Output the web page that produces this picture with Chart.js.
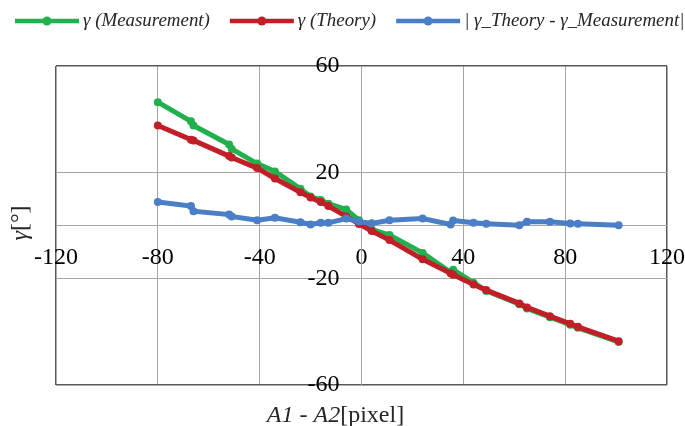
<!DOCTYPE html>
<html>
<head>
<meta charset="utf-8">
<script src="https://cdn.jsdelivr.net/npm/chart.js@4.4.1/dist/chart.umd.min.js"></script>
<style>
html, body { margin: 0; padding: 0; background: #fff; }
#wrap { width: 685px; height: 426px; }
</style>
</head>
<body>
<div id="wrap"><canvas id="gammaChart" width="685" height="426"></canvas></div>
<script>
// A1 - A2 [pixel]
const xPixel = [-80, -67, -66, -52, -51, -41, -34, -24, -20, -16, -13, -6, -1, 4, 11, 24, 35, 36, 44, 49, 62, 65, 74, 82, 85, 101];
// gamma [deg]
const gammaMeasured = [46.4, 39.2, 37.6, 30.5, 28.8, 23.3, 20.3, 13.8, 10.9, 9.6, 8.2, 6.0, 2.0, -1.5, -3.6, -10.3, -17.6, -16.6, -21.5, -24.6, -29.6, -31.2, -34.5, -37.3, -38.5, -43.8];
const gammaTheory = [37.6, 32.3, 32.0, 26.1, 25.6, 21.6, 17.7, 12.5, 10.5, 8.8, 7.3, 3.4, 0.6, -2.1, -5.5, -12.7, -18.0, -18.5, -22.2, -24.3, -29.3, -30.8, -34.1, -37.0, -38.1, -43.5];
const gammaDiff = [8.8, 7.3, 5.4, 4.1, 3.4, 2.0, 2.9, 1.2, 0.4, 1.0, 1.0, 2.6, 1.5, 0.8, 2.0, 2.6, 0.4, 1.9, 1.0, 0.7, 0.1, 1.4, 1.4, 0.75, 0.7, 0.1];

const xTicks = [-120, -80, -40, 0, 40, 80, 120];
const yTicks = [-60, -20, 20, 60];

const seriesNames = ['γ (Measurement)', 'γ (Theory)', '| γ_Theory - γ_Measurement|'];
const seriesColors = ['#22b04e', '#c01f28', '#4a7ec6'];

const SERIF = "'Liberation Serif', 'Times New Roman', serif";
Chart.defaults.font.family = SERIF;

function points(ys) {
    return xPixel.map((x, i) => ({ x: x, y: ys[i] }));
}

function makeSet(idx, ys, order) {
    return {
        label: seriesNames[idx],
        data: points(ys),
        showLine: true,
        borderColor: seriesColors[idx],
        backgroundColor: seriesColors[idx],
        borderWidth: 5,
        pointRadius: 4,
        pointBorderWidth: 0,
        pointBackgroundColor: seriesColors[idx],
        tension: 0,
        order: order
    };
}

// legend drawn across the top: short line with a dot, then the series name
const topLegend = {
    id: 'topLegend',
    afterDraw(chart) {
        const ctx = chart.ctx;
        ctx.save();
        ctx.font = 'italic 18.9px ' + SERIF;
        ctx.textBaseline = 'middle';
        let x = 15;
        const y = 21;
        seriesNames.forEach((name, i) => {
            ctx.strokeStyle = seriesColors[i];
            ctx.lineWidth = 4.5;
            ctx.beginPath();
            ctx.moveTo(x, y);
            ctx.lineTo(x + 64, y);
            ctx.stroke();
            ctx.fillStyle = seriesColors[i];
            ctx.beginPath();
            ctx.arc(x + 32, y, 4.5, 0, Math.PI * 2);
            ctx.fill();
            ctx.fillStyle = '#262626';
            ctx.fillText(name, x + 68, y);
            x += 68 + ctx.measureText(name).width + 20;
        });
        ctx.restore();
    }
};

// y tick labels sit left of the vertical axis at x = 0, with a gap
const yLabels = {
    id: 'yLabels',
    afterDraw(chart) {
        const ctx = chart.ctx;
        const xs = chart.scales.x;
        const ys = chart.scales.y;
        const right = xs.getPixelForValue(0) - 22;
        ctx.save();
        ctx.font = '24px ' + SERIF;
        ctx.fillStyle = '#000';
        ctx.textAlign = 'right';
        ctx.textBaseline = 'middle';
        yTicks.forEach(v => ctx.fillText(String(v), right, ys.getPixelForValue(v)));
        ctx.restore();
    }
};

// axis titles mix italic and upright parts, so they are drawn by hand
const axisTitles = {
    id: 'axisTitles',
    afterDraw(chart) {
        const ctx = chart.ctx;
        ctx.save();
        ctx.fillStyle = '#262626';
        ctx.textBaseline = 'alphabetic';
        ctx.textAlign = 'left';

        // x title
        const itX = 'italic 24px ' + SERIF;
        const upX = '24px ' + SERIF;
        ctx.font = itX;
        const w1 = ctx.measureText('A1 - A2').width;
        ctx.font = upX;
        const w2 = ctx.measureText('[pixel]').width;
        let sx = 335.5 - (w1 + w2) / 2;
        ctx.font = itX;
        ctx.fillText('A1 - A2', sx, 422);
        ctx.font = upX;
        ctx.fillText('[pixel]', sx + w1, 422);

        // y title
        ctx.translate(21, 223);
        ctx.rotate(-Math.PI / 2);
        ctx.textBaseline = 'middle';
        ctx.font = itX;
        const g1 = ctx.measureText('γ').width;
        ctx.font = upX;
        const g2 = ctx.measureText('[°]').width;
        sx = -(g1 + g2) / 2;
        ctx.font = itX;
        ctx.fillText('γ', sx, 0);
        ctx.font = upX;
        ctx.fillText('[°]', sx + g1, 0);
        ctx.restore();
    }
};

const edgeColor = '#595959';
const gridColor = '#a6a6a6';

new Chart(document.getElementById('gammaChart'), {
    type: 'scatter',
    data: {
        datasets: [
            makeSet(0, gammaMeasured, 3),
            makeSet(1, gammaTheory, 2),
            makeSet(2, gammaDiff, 1)
        ]
    },
    options: {
        responsive: false,
        animation: false,
        devicePixelRatio: 1,
        layout: { autoPadding: false, padding: { left: 56, right: 18, top: 66, bottom: 41 } },
        plugins: {
            legend: { display: false },
            tooltip: { enabled: false }
        },
        scales: {
            x: {
                type: 'linear',
                position: { y: 0 },
                min: -120,
                max: 120,
                afterBuildTicks: s => { s.ticks = xTicks.map(v => ({ value: v })); },
                afterFit: s => { s.height = 0; },
                grid: {
                    drawTicks: true,
                    tickLength: 18,
                    tickColor: 'rgba(0,0,0,0)',
                    lineWidth: c => (c.tick && Math.abs(c.tick.value) === 120) ? 1.5 : 1,
                    color: c => (c.tick && Math.abs(c.tick.value) === 120) ? edgeColor : gridColor
                },
                border: { display: true, color: gridColor, width: 1 },
                ticks: {
                    color: '#000',
                    font: { size: 24, family: SERIF },
                    padding: 0,
                    maxRotation: 0,
                    autoSkip: false,
                    callback: v => String(v)
                }
            },
            y: {
                type: 'linear',
                position: { x: 0 },
                min: -60,
                max: 60,
                afterBuildTicks: s => { s.ticks = yTicks.map(v => ({ value: v })); },
                afterFit: s => { s.width = 0; },
                grid: {
                    drawTicks: false,
                    lineWidth: c => (c.tick && Math.abs(c.tick.value) === 60) ? 1.5 : 1,
                    color: c => (c.tick && Math.abs(c.tick.value) === 60) ? edgeColor : gridColor
                },
                border: { display: true, color: gridColor, width: 1 },
                ticks: { display: false }
            }
        }
    },
    plugins: [topLegend, yLabels, axisTitles]
});
</script>
</body>
</html>
